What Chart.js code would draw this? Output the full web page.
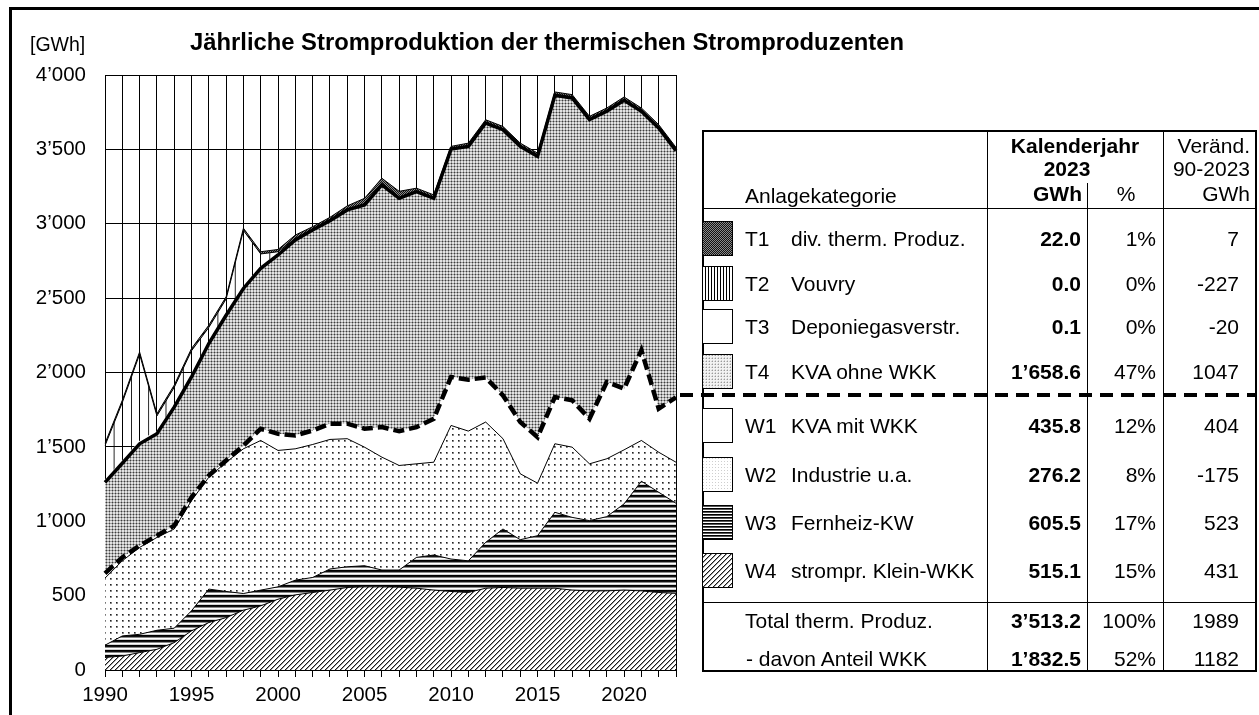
<!DOCTYPE html>
<html>
<head>
<meta charset="utf-8">
<title>Jährliche Stromproduktion der thermischen Stromproduzenten</title>
<script src="https://cdn.jsdelivr.net/npm/chart.js@4.4.1/dist/chart.umd.min.js"></script>
<style>
  body { margin: 0; background: #fff; overflow: hidden; font-family: "Liberation Sans", Arial, Helvetica, sans-serif; }
  #wrap { position: relative; width: 1259px; height: 715px; overflow: hidden; }
  #frame { position: absolute; left: 9px; top: 7px; width: 1300px; height: 800px; border: 3px solid #000; }
  #chart { position: absolute; left: 0; top: 0; }
  .t { position: absolute; color: #000; white-space: nowrap; }
  .ln { position: absolute; background: #000; }
  .sw { position: absolute; }
</style>
</head>
<body>
<div id="wrap">
  <div id="frame"></div>
  <canvas id="chart" width="1259" height="715"></canvas>
  <div id="table"></div>
</div>
<script>
// Jahreswerte 1990-2023 in GWh
const years = [1990, 1991, 1992, 1993, 1994, 1995, 1996, 1997, 1998, 1999,
               2000, 2001, 2002, 2003, 2004, 2005, 2006, 2007, 2008, 2009,
               2010, 2011, 2012, 2013, 2014, 2015, 2016, 2017, 2018, 2019,
               2020, 2021, 2022, 2023];
const xLabelYears = [1990, 1995, 2000, 2005, 2010, 2015, 2020];

// W4 strompr. Klein-WKK
const w4 = [84.1, 94, 117, 139, 184, 263, 319, 352, 402, 431,
            476, 505, 521, 537, 555, 559, 559, 557, 550, 537,
            528, 521, 550, 555, 550, 550, 550, 537, 532, 532,
            537, 532, 521, 515.1];
// W3 Fernheiz-KW
const w3 = [82.5, 135, 123, 128, 97, 135, 225, 176, 112, 106,
            83, 99, 101, 142, 139, 142, 113, 115, 207, 236,
            218, 213, 308, 393, 326, 353, 510, 489, 472, 499,
            580, 737, 674, 605.5];
// W2 Industrie u.a.
const w2 = [451.2, 505, 584, 624, 667, 741, 752, 869, 973, 1006,
            917, 883, 894, 871, 861, 797, 759, 703, 629, 624,
            898, 872, 809, 607, 443, 353, 461, 472, 382, 389,
            363, 274, 269, 276.2];
// W1 KVA mit WKK
const w1 = [31.8, 23, 12, 12, 22, 22, 11, 11, 22, 79,
            112, 90, 94, 106, 101, 124, 202, 230, 247, 292,
            326, 346, 299, 291, 348, 309, 314, 315, 303, 516,
            411, 607, 293, 435.8];
// T4 KVA ohne WKK
const t4 = [611.6, 633, 685, 685, 797, 809, 888, 977, 1056, 1078,
            1202, 1314, 1348, 1365, 1437, 1505, 1628, 1566, 1583, 1482,
            1532, 1568, 1711, 1786, 1853, 1888, 2029, 2033, 2011, 1820,
            1939, 1606, 1887, 1658.6];
// T3 Deponiegasverstr.
const t3 = [20.1, 20, 20, 20, 18, 18, 15, 15, 15, 15,
            12, 10, 4, 3, 3, 5, 5, 5, 3, 3,
            3, 2, 2, 2, 2, 2, 2, 2, 1, 1,
            1, 1, 0.1, 0.1];
// T2 Vouvry
const t2 = [227, 388, 582, 100, 115, 158, 93, 94, 375, 82,
            10, 0, 0, 0, 0, 0, 0, 0, 0, 0,
            0, 0, 0, 0, 0, 0, 0, 0, 0, 0,
            0, 0, 0, 0];
// T1 div. therm. Produz.
const t1 = [15, 15, 15, 15, 15, 15, 15, 15, 15, 15,
            15, 23, 18, 19, 24, 39, 40, 42, 20, 20,
            15, 20, 20, 20, 20, 20, 20, 20, 21, 21,
            21, 21, 22, 22];

// Tabelle Kalenderjahr 2023
const rowCodes = ['T1', 'T2', 'T3', 'T4', 'W1', 'W2', 'W3', 'W4'];
const rowNames = ['div. therm. Produz.', 'Vouvry', 'Deponiegasverstr.', 'KVA ohne WKK',
                  'KVA mit WKK', 'Industrie u.a.', 'Fernheiz-KW', 'strompr. Klein-WKK'];
const gwh2023 = ['22.0', '0.0', '0.1', '1’658.6', '435.8', '276.2', '605.5', '515.1'];
const pct2023 = ['1%', '0%', '0%', '47%', '12%', '8%', '17%', '15%'];
const change90 = ['7', '-227', '-20', '1047', '404', '-175', '523', '431'];
const totalLabels = ['Total therm. Produz.', ' - davon Anteil WKK'];
const totalGwh = ['3’513.2', '1’832.5'];
const totalPct = ['100%', '52%'];
const totalChange = ['1989', '1182'];

const FONT = '"Liberation Sans", Arial, Helvetica, sans-serif';

// WKK-Summe fuer die gestrichelte Linie
const wkk = years.map((_, i) => w1[i] + w2[i] + w3[i] + w4[i]);

// --- Muster ---
function tile(w, h, paint) {
    const c = document.createElement('canvas');
    c.width = w; c.height = h;
    paint(c.getContext('2d'));
    return c;
}
function px(g, x, y, col) { g.fillStyle = col; g.fillRect(x, y, 1, 1); }
function bg(g, w, h, col) { g.fillStyle = col; g.fillRect(0, 0, w, h); }

const tiles = {
    t1: tile(2, 2, g => { px(g, 0, 0, '#111'); px(g, 1, 1, '#111'); px(g, 1, 0, '#8a8a8a'); px(g, 0, 1, '#8a8a8a'); }),
    t2: tile(20, 1, g => { px(g, 10, 0, '#000'); }),
    t4: tile(3, 3, g => {
        bg(g, 3, 3, '#e2e2e2');
        px(g, 1, 0, '#9c9c9c'); px(g, 0, 1, '#9c9c9c'); px(g, 2, 1, '#9c9c9c'); px(g, 1, 2, '#9c9c9c');
        px(g, 1, 1, '#3c3c3c');
    }),
    w2: tile(6, 6, g => { bg(g, 6, 6, '#fff'); px(g, 2, 2, '#222'); px(g, 3, 2, '#777'); px(g, 2, 3, '#777'); px(g, 3, 3, '#999'); }),
    w3: tile(1, 5, g => { ['#000', '#111', '#8a8a8a', '#fff', '#d4d4d4'].forEach((c, i) => px(g, 0, i, c)); }),
    w4: tile(5, 5, g => { bg(g, 5, 5, '#fff'); for (let i = 0; i < 5; i++) { px(g, i, 4 - i, '#1a1a1a'); px(g, i, (5 - i) % 5, '#999'); } }),
    // Legendenfelder
    t2s: tile(3, 1, g => { bg(g, 3, 1, '#fff'); px(g, 0, 0, '#000'); }),
    t4s: tile(3, 3, g => { bg(g, 3, 3, '#f2f2f2'); px(g, 1, 1, '#9a9a9a'); px(g, 1, 0, '#d0d0d0'); px(g, 0, 1, '#d0d0d0'); }),
    w2s: tile(3, 3, g => { bg(g, 3, 3, '#fff'); px(g, 1, 1, '#cfcfcf'); }),
    w3s: tile(1, 3, g => { ['#000', '#555', '#fff'].forEach((c, i) => px(g, 0, i, c)); })
};

const ctx = document.getElementById('chart').getContext('2d');
const pat = k => ctx.createPattern(tiles[k], 'repeat');
const pT1 = pat('t1'), pT2 = pat('t2'), pT4 = pat('t4'), pW2 = pat('w2'), pW3 = pat('w3'), pW4 = pat('w4');

// Vouvry-Schraffur an den Jahresraster anlehnen
const hatchAlign = {
    id: 'hatchAlign',
    beforeDatasetsDraw(chart) {
        const x = chart.scales.x;
        const x0 = x.getPixelForValue(0);
        const step = x.getPixelForValue(1) - x0;
        pT2.setTransform(new DOMMatrix([step / 20, 0, 0, 1, x0, 0]));
    }
};

function area(label, data, fill, bgc, bw, bc) {
    return {
        label: label, data: data, fill: fill,
        backgroundColor: bgc, borderColor: bc || '#000', borderWidth: bw,
        pointRadius: 0, tension: 0
    };
}

const chart = new Chart(ctx, {
    type: 'line',
    data: {
        labels: years,
        datasets: [
            area('W4', w4, 'origin', pW4, 1),
            area('W3', w3, '-1', pW3, 1),
            area('W2', w2, '-1', pW2, 1),
            area('W1', w1, '-1', '#fff', 1, 'rgba(0,0,0,0)'),
            area('T4', t4, '-1', pT4, 3.5),
            area('T3', t3, '-1', '#fff', 1, 'rgba(0,0,0,0)'),
            area('T2', t2, '-1', pT2, 1),
            area('T1', t1, '-1', pT1, 1),
            {
                label: 'WKK', data: wkk, stack: 'wkk', fill: false,
                borderColor: '#000', borderWidth: 4.5, borderDash: [11, 5],
                pointRadius: 0, tension: 0, order: -1
            }
        ]
    },
    options: {
        responsive: false,
        animation: false,
        devicePixelRatio: 1,
        layout: { padding: { left: 10, top: 75, right: 583, bottom: 0 } },
        plugins: {
            legend: { display: false },
            tooltip: { enabled: false },
            filler: { propagate: false }
        },
        scales: {
            x: {
                grid: { color: '#000', lineWidth: 1, tickLength: 7, drawTicks: true },
                border: { color: '#000', width: 1 },
                ticks: {
                    autoSkip: false, maxRotation: 0, minRotation: 0, padding: 6,
                    color: '#000', font: { family: FONT, size: 20.5 },
                    callback: function (value, index) {
                        return xLabelYears.includes(years[index]) ? String(years[index]) : '';
                    }
                },
                afterFit: s => { s.height = 45; }
            },
            y: {
                stacked: true,
                min: 0, max: 4000,
                grid: { color: '#000', lineWidth: 1, drawTicks: false },
                border: { color: '#000', width: 1 },
                ticks: {
                    stepSize: 500, padding: 19, color: '#000',
                    font: { family: FONT, size: 20.5 },
                    callback: v => v >= 1000 ? Math.floor(v / 1000) + '’' + String(v % 1000).padStart(3, '0') : String(v)
                },
                afterFit: s => { s.width = 95; }
            }
        }
    },
    plugins: [hatchAlign]
});

// --- Titel und Tabelle ---
const wrap = document.getElementById('wrap');
const table = document.getElementById('table');

function text(parent, str, x, cy, align, size, bold) {
    const d = document.createElement('div');
    d.className = 't';
    d.textContent = str;
    const lh = Math.round(size * 1.2);
    d.style.fontSize = size + 'px';
    d.style.lineHeight = lh + 'px';
    d.style.top = (cy - lh / 2) + 'px';
    if (bold) d.style.fontWeight = 'bold';
    if (align === 'right') d.style.right = (1259 - x) + 'px';
    else if (align === 'center') { d.style.left = x + 'px'; d.style.transform = 'translateX(-50%)'; }
    else d.style.left = x + 'px';
    parent.appendChild(d);
}
function line(x, y, w, h) {
    const d = document.createElement('div');
    d.className = 'ln';
    d.style.left = x + 'px'; d.style.top = y + 'px';
    d.style.width = w + 'px'; d.style.height = h + 'px';
    table.appendChild(d);
}

text(wrap, '[GWh]', 30, 44, 'left', 19.5, false);
text(wrap, 'Jährliche Stromproduktion der thermischen Stromproduzenten', 190, 41, 'left', 23.8, true);

// Rahmen
const TL = 702, TR = 1257, TT = 130, TB = 672;
line(TL, TT, TR - TL, 2);
line(TL, TB - 2, TR - TL, 2);
line(TL, TT, 2, TB - TT);
line(TR - 2, TT, 2, TB - TT);
line(987, TT, 1, TB - TT);
line(1163, TT, 1, TB - TT);
line(1087, 183, 1, TB - 183);
line(TL, 208, TR - TL, 1);
line(TL, 602, TR - TL, 1);
// gestrichelte Trennlinie WKK
const dash = document.createElement('div');
dash.style.cssText = 'position:absolute;left:680px;top:393px;width:577px;height:4px;' +
    'background:repeating-linear-gradient(to right,#000 0 13px,transparent 13px 21px);';
table.appendChild(dash);

// Kopf
const TS = 21;
text(table, 'Kalenderjahr', 1075, 145, 'center', TS, true);
text(table, '2023', 1067, 168, 'center', TS, true);
text(table, 'GWh', 1082, 193, 'right', TS, true);
text(table, '%', 1126, 193, 'center', TS, false);
text(table, 'Veränd.', 1250, 145, 'right', TS, false);
text(table, '90-2023', 1250, 168, 'right', TS, false);
text(table, 'GWh', 1250, 193, 'right', TS, false);
text(table, 'Anlagekategorie', 745, 195, 'left', TS, false);

// Zeilen
const rowCenters = [238, 283, 326, 371, 425, 474, 522, 570];
const swatchFill = ['t1', 't2s', null, 't4s', null, 'w2s', 'w3s', 'w4'];
rowCodes.forEach((code, i) => {
    const cy = rowCenters[i];
    text(table, code, 745, cy, 'left', TS, false);
    text(table, rowNames[i], 791, cy, 'left', TS, false);
    text(table, gwh2023[i], 1081, cy, 'right', TS, true);
    text(table, pct2023[i], 1156, cy, 'right', TS, false);
    text(table, change90[i], 1239, cy, 'right', TS, false);

    const c = document.createElement('canvas');
    c.className = 'sw';
    c.width = 31; c.height = 35;
    c.style.left = '702px';
    c.style.top = (cy - 17) + 'px';
    const g = c.getContext('2d');
    g.fillStyle = swatchFill[i] ? g.createPattern(tiles[swatchFill[i]], 'repeat') : '#fff';
    g.fillRect(0, 0, 31, 35);
    g.strokeStyle = '#000';
    g.lineWidth = 1;
    g.strokeRect(0.5, 0.5, 30, 34);
    table.appendChild(c);
});

const totalCenters = [620, 658];
totalLabels.forEach((lab, i) => {
    const cy = totalCenters[i];
    text(table, lab, i === 0 ? 745 : 746, cy, 'left', TS, false);
    text(table, totalGwh[i], 1081, cy, 'right', TS, true);
    text(table, totalPct[i], 1156, cy, 'right', TS, false);
    text(table, totalChange[i], 1239, cy, 'right', TS, false);
});
</script>
</body>
</html>
